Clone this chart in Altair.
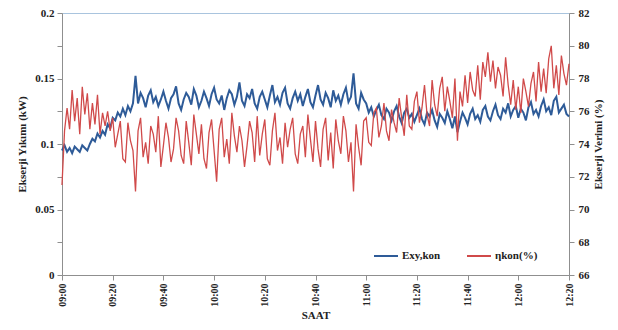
import altair as alt
import pandas as pd

# minutes after 09:00
minutes = list(range(0, 201))
tick_labels = ["09:00", "09:20", "09:40", "10:00", "10:20", "10:40",
               "11:00", "11:20", "11:40", "12:00", "12:20"]
series_names = ["Exy,kon", "ηkon(%)"]
colors = ["#2E5B98", "#D04A4A"]

exy_kon = [
    0.095, 0.099, 0.094, 0.097, 0.093, 0.098, 0.096, 0.094, 0.099, 0.097,
    0.095, 0.100, 0.104, 0.102, 0.108, 0.105, 0.110, 0.107, 0.115, 0.112,
    0.120, 0.118, 0.124, 0.121, 0.127, 0.122, 0.129, 0.125, 0.131, 0.152,
    0.131, 0.139, 0.135, 0.128, 0.137, 0.141, 0.132, 0.136, 0.129, 0.134,
    0.140, 0.133, 0.127, 0.135, 0.138, 0.144, 0.131, 0.126, 0.134, 0.139,
    0.136, 0.130, 0.142, 0.137, 0.128, 0.133, 0.140, 0.135, 0.129, 0.138,
    0.143, 0.134, 0.131, 0.137, 0.126, 0.135, 0.141, 0.138, 0.130, 0.136,
    0.147, 0.133, 0.129, 0.138, 0.135, 0.142, 0.131, 0.127, 0.136, 0.140,
    0.134, 0.128, 0.137, 0.145, 0.132, 0.136, 0.130, 0.139, 0.143, 0.131,
    0.127, 0.135, 0.140, 0.133, 0.138, 0.129, 0.136, 0.142, 0.132, 0.128,
    0.137, 0.145, 0.134, 0.130, 0.139, 0.135, 0.128, 0.141, 0.133, 0.137,
    0.130, 0.138, 0.143, 0.132, 0.136, 0.154, 0.131, 0.127, 0.139, 0.134,
    0.131, 0.124, 0.128, 0.121, 0.126, 0.130, 0.122, 0.119, 0.127, 0.124,
    0.118, 0.125, 0.129, 0.121, 0.116, 0.124, 0.127, 0.120, 0.123, 0.117,
    0.122, 0.127, 0.119, 0.115, 0.124, 0.121, 0.126, 0.118, 0.113, 0.123,
    0.120, 0.116, 0.125, 0.119, 0.112, 0.121, 0.109, 0.117, 0.124, 0.120,
    0.115, 0.123, 0.127, 0.119, 0.122, 0.117, 0.126, 0.129, 0.121, 0.118,
    0.125, 0.130, 0.122, 0.119, 0.127, 0.124, 0.131, 0.121, 0.126, 0.129,
    0.120, 0.127, 0.124, 0.118, 0.128, 0.132, 0.123, 0.126, 0.121, 0.129,
    0.134, 0.125, 0.128, 0.122, 0.133, 0.136, 0.124, 0.127, 0.130, 0.123,
    0.121,
]

eta_kon = [
    71.5, 74.8, 76.2, 74.9, 77.3, 75.4, 76.8, 74.6, 77.5, 75.8,
    77.1, 74.9, 76.5, 75.2, 77.0, 74.6, 75.9, 75.1, 76.0, 74.8,
    75.6, 73.8, 74.6, 75.4, 73.1, 72.9, 75.3, 74.2, 73.6, 71.1,
    74.8, 75.6, 73.2, 74.1, 72.8, 75.1, 74.6, 73.5, 75.7, 72.6,
    73.9, 75.3, 74.4, 72.9, 73.7, 75.6, 74.8, 73.3, 72.8, 75.4,
    74.1, 72.7, 75.8, 74.6, 73.4, 75.2, 73.1, 72.5, 74.7, 75.5,
    73.6, 71.7, 74.9, 75.6, 73.2, 74.3, 72.8, 75.9, 74.5, 73.5,
    75.1, 74.2, 72.6, 73.9, 75.4, 74.7, 72.9, 75.7, 73.3, 74.6,
    75.5, 73.1, 72.7, 74.8, 75.9, 73.6, 74.4, 72.8, 75.3, 73.8,
    74.9, 75.6, 73.4, 72.8, 74.6, 75.1, 73.2, 75.8, 74.3, 72.9,
    75.4, 73.7, 72.6, 74.9, 75.6, 73.0, 74.7, 72.5, 75.5, 74.2,
    73.4, 75.7, 74.8, 72.9, 74.1, 71.1, 75.2, 73.8, 72.7, 75.4,
    75.6, 74.1, 73.9, 75.9, 76.2, 74.4, 75.1, 76.5, 74.8, 74.2,
    76.1, 75.3, 74.7, 76.8, 75.6, 74.5, 77.0, 75.1, 74.9, 76.6,
    77.2, 75.3, 76.2, 77.6, 75.8, 75.1, 77.9, 76.4, 75.7, 77.4,
    78.1, 76.0, 77.5, 76.6, 75.6, 78.0, 74.2, 77.2, 76.3, 78.2,
    76.5, 78.4, 77.3, 76.9, 78.8, 76.7, 79.0, 78.1, 79.6, 77.8,
    79.1, 77.4, 78.7, 78.2, 76.9, 79.3, 77.6, 76.4, 77.9, 76.1,
    77.5, 75.9, 78.0, 77.2, 76.3, 77.7, 78.4, 76.6, 79.0, 77.2,
    78.6, 77.1, 79.2, 80.0, 77.4, 78.8, 77.0, 79.4, 78.3, 77.6,
    78.9,
]

df = pd.DataFrame({"minute": minutes, "exy": exy_kon, "eta": eta_kon})

FONT = "Liberation Serif"

x_label_expr = "[" + ",".join("'%s'" % t for t in tick_labels) + "][round(datum.value/20)]"

x_enc = alt.X(
    "minute:Q",
    scale=alt.Scale(domain=[0, 200], nice=False, zero=False),
    axis=alt.Axis(
        values=list(range(0, 201, 20)),
        labelExpr=x_label_expr,
        labelAngle=270,
        labelAlign="right",
        labelBaseline="middle",
        labelFontSize=10,
        title="SAAT",
        titlePadding=3,
        tickSize=5,
        labelPadding=3,
    ),
)

color_enc = alt.Color(
    "series:N",
    scale=alt.Scale(domain=series_names, range=colors),
    legend=alt.Legend(
        orient="none",
        legendX=311,
        legendY=230,
        direction="horizontal",
        title=None,
        symbolType="stroke",
        symbolSize=576,
        symbolStrokeWidth=2,
        columnPadding=22,
        labelOffset=3,
        labelFont=FONT,
        labelFontSize=11,
        labelFontWeight="bold",
        labelColor="#222222",
    ),
)

left_ticks = [round(i * 0.025, 3) for i in range(9)]

blue = (
    alt.Chart(df)
    .transform_calculate(series="'Exy,kon'")
    .mark_line(strokeWidth=2)
    .encode(
        x=x_enc,
        y=alt.Y(
            "exy:Q",
            scale=alt.Scale(domain=[0, 0.2], nice=False),
            axis=alt.Axis(
                orient="left",
                values=left_ticks,
                labelExpr="round(datum.value*40) % 2 == 0 ? format(datum.value, '~g') : ''",
                title="Ekserji Yıkımı (kW)",
                titlePadding=7,
                tickSize=5,
                labelPadding=3,
            ),
        ),
        color=color_enc,
    )
)

red = (
    alt.Chart(df)
    .transform_calculate(series="'ηkon(%)'")
    .mark_line(strokeWidth=1.3)
    .encode(
        x=x_enc,
        y=alt.Y(
            "eta:Q",
            scale=alt.Scale(domain=[66, 82], nice=False, zero=False),
            axis=alt.Axis(
                orient="right",
                values=list(range(66, 83, 2)),
                title="Ekserji Verimi (%)",
                titleAngle=270,
                titlePadding=14,
                tickSize=5,
                labelPadding=4,
            ),
        ),
        color=color_enc,
    )
)

chart = (
    alt.layer(blue, red)
    .resolve_scale(y="independent")
    .properties(
        width=507,
        height=262,
        autosize=alt.AutoSizeParams(type="none"),
        padding={"left": 54, "top": 5, "right": 41, "bottom": 46},
    )
    .configure_axis(
        grid=False,
        labelFont=FONT,
        labelFontSize=11,
        labelFontWeight="bold",
        labelColor="#222222",
        titleFont=FONT,
        titleFontSize=11,
        titleFontWeight="bold",
        titleColor="#222222",
        domainColor="#8f8f8f",
        tickColor="#8f8f8f",
    )
    .configure_view(stroke="#A9C4DE", strokeWidth=1)
)

chart.save("out.html", embed_options={"renderer": "svg", "actions": False})
